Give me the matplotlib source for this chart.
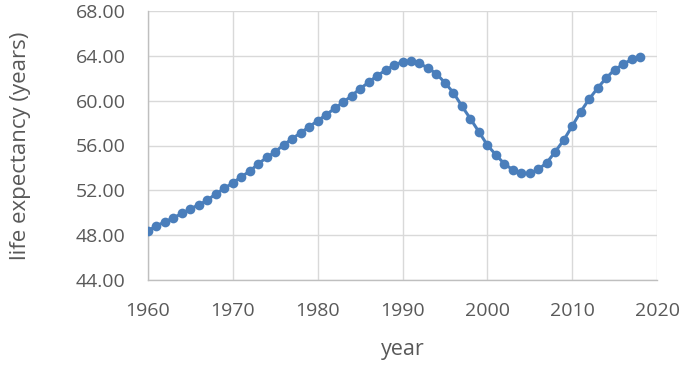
import matplotlib
matplotlib.use("Agg")
import matplotlib.pyplot as plt

years = list(range(1960, 2019))
life_exp = [48.40, 48.83, 49.19, 49.55, 49.94, 50.35, 50.71, 51.12, 51.69, 52.17,
            52.67, 53.21, 53.71, 54.37, 54.93, 55.44, 56.07, 56.60, 57.14, 57.67,
            58.21, 58.74, 59.31, 59.85, 60.44, 61.07, 61.63, 62.23, 62.70, 63.18,
            63.45, 63.51, 63.33, 62.91, 62.40, 61.60, 60.71, 59.52, 58.39, 57.23,
            56.04, 55.17, 54.37, 53.83, 53.51, 53.51, 53.86, 54.46, 55.44, 56.48,
            57.73, 59.01, 60.14, 61.12, 62.02, 62.76, 63.24, 63.68, 63.92]
x_ticks = [1960, 1970, 1980, 1990, 2000, 2010, 2020]
y_ticks = [44, 48, 52, 56, 60, 64, 68]

plt.rcParams['font.family'] = ['Open Sans', 'DejaVu Sans']
text_c = '#595959'

W, H = 685, 366
fig = plt.figure(figsize=(W/100, H/100), dpi=100)
L, R, T, B = 148, 657, 11, 280
ax = fig.add_axes([L/W, 1-B/H, (R-L)/W, (B-T)/H])

ax.plot(years, life_exp, color='#4a7ebb', lw=2.2, marker='o', ms=7,
        markeredgewidth=0, zorder=3)

ax.set_xlim(1960, 2020)
ax.set_ylim(44, 68)
ax.set_xticks(x_ticks)
ax.set_yticks(y_ticks)
ax.set_yticklabels([f"{v:.2f}" for v in y_ticks])
ax.grid(True, color='#d9d9d9', lw=1.0)
ax.set_axisbelow(True)
for s in ['top', 'right']:
    ax.spines[s].set_visible(False)
for s in ['left', 'bottom']:
    ax.spines[s].set_color('#bfbfbf')
    ax.spines[s].set_linewidth(1.0)
ax.tick_params(length=0, labelsize=14, colors=text_c)
ax.tick_params(axis='x', pad=16)
ax.tick_params(axis='y', pad=16)

ax.set_xlabel('year', fontsize=15.5, color=text_c, va='center')
ax.xaxis.set_label_coords(0.5, -(350 - B) / (B - T))
ax.set_ylabel('life expectancy (years)', fontsize=16, color=text_c, va='center')
ax.yaxis.set_label_coords(-(L - 20) / (R - L), 0.5)

fig.savefig('out.png', dpi=100)
